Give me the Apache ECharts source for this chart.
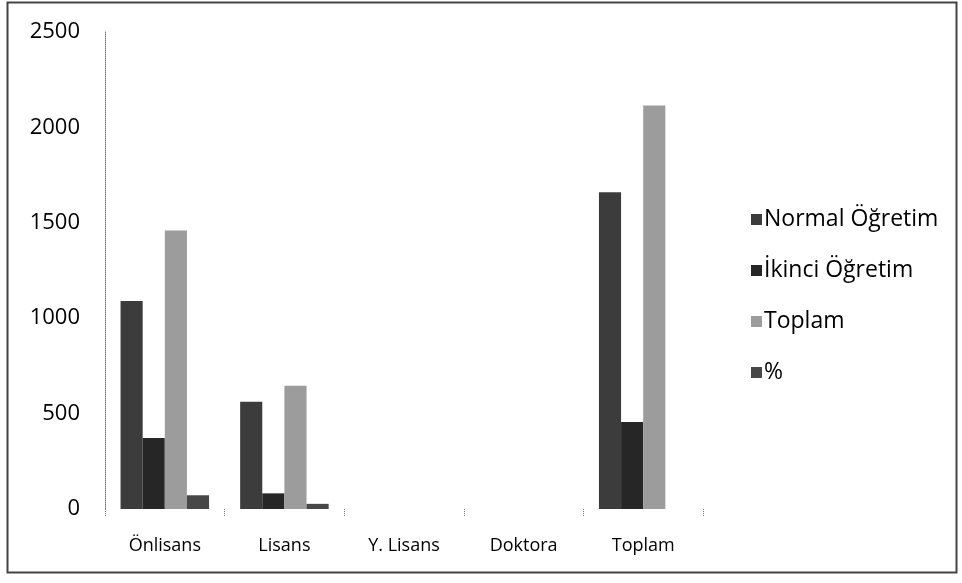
<!DOCTYPE html>
<html>
<head>
<meta charset="utf-8">
<script src="https://cdn.jsdelivr.net/npm/echarts@6/dist/echarts.min.js"></script>
<style>
html,body{margin:0;padding:0;background:#fff;}
#chart{width:962px;height:583px;}
</style>
</head>
<body>
<div id="chart"></div>
<script>
// kategoriler ve seriler
var categories = ['Önlisans', 'Lisans', 'Y. Lisans', 'Doktora', 'Toplam']
var normalOgretim = [1090, 562, 0, 0, 1660]
var ikinciOgretim = [372, 82, 0, 0, 456]
var toplam = [1460, 646, 0, 0, 2115]
var yuzde = [72, 27, 0, 0, null]
var yTicks = [0, 500, 1000, 1500, 2000, 2500]

var font = 'Open Sans'
var chart = echarts.init(document.getElementById('chart'))

function bar(name, data, color){
    return {
        name: name,
        type: 'bar',
        data: data,
        barGap: 0,
        barCategoryGap: '26%',
        itemStyle: { color: color },
        animation: false
    }
}

chart.setOption({
    backgroundColor: '#fff',
    grid: { left: 105, right: 259, top: 32, bottom: 74 },
    legend: {
        orient: 'vertical',
        left: 746,
        top: 202,
        itemWidth: 11,
        itemHeight: 11,
        itemGap: 26,
        icon: 'rect',
        textStyle: { fontFamily: font, fontSize: 23, lineHeight: 25, color: '#000', padding: [0, 0, 0, -3] },
        data: ['Normal Öğretim', 'İkinci Öğretim', 'Toplam', '%']
    },
    xAxis: {
        type: 'category',
        data: categories,
        axisLine: { show: false },
        axisTick: { show: true, length: 8, lineStyle: { color: '#777', type: 'dotted' } },
        axisLabel: { fontFamily: font, fontSize: 18, color: '#000', margin: 28 }
    },
    yAxis: {
        type: 'value',
        min: yTicks[0],
        max: yTicks[yTicks.length - 1],
        interval: 500,
        axisLine: { show: true, lineStyle: { color: '#777', type: 'dotted' } },
        axisTick: { show: false },
        splitLine: { show: false },
        axisLabel: { fontFamily: font, fontSize: 22, color: '#000', margin: 25, formatter: function(v){ return String(v) } }
    },
    graphic: [{
        type: 'rect',
        shape: { x: 7.5, y: 2.5, width: 949, height: 570 },
        style: { fill: 'none', stroke: '#444', lineWidth: 2 },
        silent: true
    }],
    series: [
        bar('Normal Öğretim', normalOgretim, '#3c3c3c'),
        bar('İkinci Öğretim', ikinciOgretim, '#262626'),
        bar('Toplam', toplam, '#9c9c9c'),
        bar('%', yuzde, '#474747')
    ]
})
</script>
</body>
</html>
